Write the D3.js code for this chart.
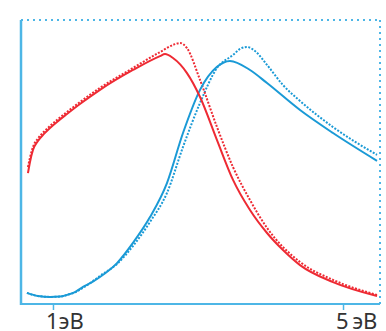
<!DOCTYPE html>
<html>
<head>
<meta charset="utf-8">
<script src="https://cdn.jsdelivr.net/npm/d3@7"></script>
<style>
  body { margin: 0; background: #fff; }
  svg { display: block; }
  .tick-label { font-family: "Noto Sans", "Open Sans", sans-serif; font-size: 22px; fill: #333; }
</style>
</head>
<body>
<div id="chart-container"></div>
<script>
// photon energy (eV) and relative intensity (0..100)
var redSolidX  = [0.655, 0.683, 0.724, 0.793, 0.876, 0.959, 1.069, 1.193, 1.372, 1.648, 2.103, 2.476, 2.545, 2.655, 2.848, 3.028, 3.262, 3.483, 3.717, 3.952, 4.172, 4.407, 4.862, 5.469];
var redSolidY  = [46.1, 50.0, 54.2, 57.4, 59.9, 62.0, 64.4, 66.9, 70.4, 75.4, 82.4, 87.3, 88.0, 86.6, 81.3, 72.9, 57.7, 43.7, 33.1, 25.0, 19.0, 13.7, 7.7, 2.8];

var redDotX    = [0.655, 0.683, 0.724, 0.793, 0.876, 0.959, 1.069, 1.193, 1.372, 1.648, 2.103, 2.476, 2.683, 2.752, 2.848, 3.028, 3.262, 3.483, 3.717, 3.952, 4.407, 4.862, 5.469];
var redDotY    = [48.2, 51.5, 55.3, 58.3, 60.7, 62.7, 65.1, 67.6, 71.1, 76.1, 83.1, 88.7, 91.5, 91.9, 90.1, 78.9, 62.3, 48.2, 36.6, 26.8, 14.8, 8.5, 3.2];

var blueSolidX = [0.641, 0.793, 0.959, 1.097, 1.193, 1.303, 1.414, 1.538, 1.648, 1.883, 2.103, 2.338, 2.572, 2.793, 3.028, 3.262, 3.441, 3.717, 3.952, 4.407, 4.862, 5.469];
var blueSolidY = [3.9, 2.8, 2.5, 2.6, 3.2, 4.2, 6.0, 7.7, 9.5, 14.4, 21.5, 30.6, 42.6, 60.2, 75.4, 83.5, 85.6, 82.4, 77.8, 68.3, 60.2, 50.4];

var blueDotX   = [0.641, 0.793, 0.959, 1.097, 1.193, 1.303, 1.414, 1.538, 1.648, 1.883, 2.103, 2.338, 2.572, 2.793, 3.028, 3.262, 3.483, 3.579, 3.676, 3.786, 3.952, 4.172, 4.407, 4.862, 5.469];
var blueDotY   = [3.9, 2.8, 2.5, 2.6, 3.2, 4.1, 5.7, 7.8, 9.9, 14.1, 20.4, 28.9, 39.1, 55.3, 70.8, 83.1, 87.7, 89.8, 90.5, 89.1, 84.2, 77.1, 71.5, 62.3, 52.5];

var tickValues = [1, 5];
var tickLabels = ["1эВ", "5\u2009эВ"];

var margin = {top: 20, right: 6, bottom: 27, left: 21},
    width = 386 - margin.left - margin.right,
    height = 331 - margin.top - margin.bottom;

var svg = d3.select("#chart-container")
    .append("svg")
    .attr("width", 386)
    .attr("height", 331)
    .append("g")
    .attr("transform", "translate(" + margin.left + "," + margin.top + ")");

var x = d3.scaleLinear().domain([0.559, 5.51]).range([0, width]);
var y = d3.scaleLinear().domain([0, 100]).range([height, 0]);

var axisColor = "#4db6e6";

// frame: dotted top and right
svg.append("line")
    .attr("x1", 0).attr("x2", width).attr("y1", 0).attr("y2", 0)
    .attr("stroke", axisColor).attr("stroke-width", 2)
    .attr("stroke-dasharray", "2,4");
svg.append("line")
    .attr("x1", width).attr("x2", width).attr("y1", 0).attr("y2", height)
    .attr("stroke", axisColor).attr("stroke-width", 2)
    .attr("stroke-dasharray", "2,4");

// curves
var line = d3.line()
    .x(function(d) { return x(d[0]); })
    .y(function(d) { return y(d[1]); })
    .curve(d3.curveMonotoneX);

function zip(a, b) { return a.map(function(v, i) { return [v, b[i]]; }); }

var series = [
    {data: zip(blueDotX, blueDotY), color: "#1a9ad6", dash: "2,1.5"},
    {data: zip(redDotX, redDotY), color: "#ee2a33", dash: "2,1.5"},
    {data: zip(blueSolidX, blueSolidY), color: "#1a9ad6", dash: null},
    {data: zip(redSolidX, redSolidY), color: "#ee2a33", dash: null}
];

series.forEach(function(s) {
    svg.append("path")
        .datum(s.data)
        .attr("fill", "none")
        .attr("stroke", s.color)
        .attr("stroke-width", 2)
        .attr("stroke-dasharray", s.dash)
        .attr("d", line);
});

// axes
var xAxis = svg.append("g")
    .attr("transform", "translate(0," + height + ")")
    .call(d3.axisBottom(x).tickValues(tickValues).tickSize(6).tickFormat(""));
xAxis.select(".domain").remove();
xAxis.selectAll(".tick line").attr("stroke", axisColor).attr("stroke-width", 1.5);

svg.append("line")
    .attr("x1", 0).attr("x2", width).attr("y1", height).attr("y2", height)
    .attr("stroke", axisColor).attr("stroke-width", 2);
svg.append("line")
    .attr("x1", 0).attr("x2", 0).attr("y1", 0).attr("y2", height + 1)
    .attr("stroke", axisColor).attr("stroke-width", 2.5);

svg.selectAll(".tick-label")
    .data(tickValues)
    .enter().append("text")
    .attr("class", "tick-label")
    .attr("x", function(d) { return x(d) - 7; })
    .attr("y", height + 25)
    .text(function(d, i) { return tickLabels[i]; });
</script>
</body>
</html>
